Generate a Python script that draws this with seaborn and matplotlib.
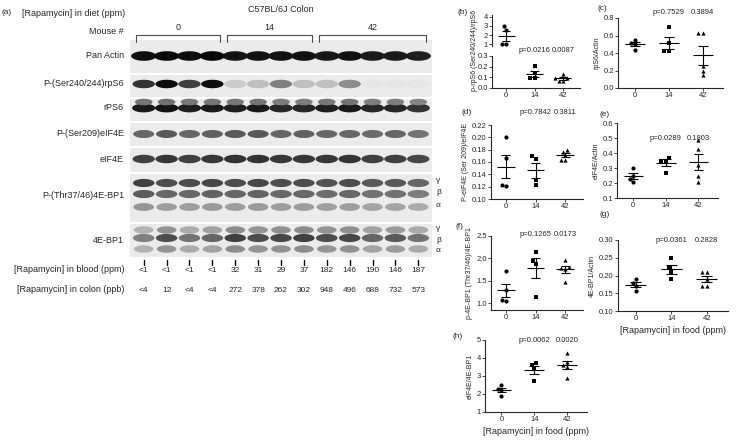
import numpy as np
import pandas as pd
import matplotlib
matplotlib.use("Agg")
import matplotlib.pyplot as plt
from matplotlib.patches import Rectangle
from matplotlib.path import Path
from matplotlib.transforms import blended_transform_factory
import seaborn as sns

sns.set_style("ticks")
plt.rcParams["font.family"] = "Liberation Sans"

# ---- blot data (relative band intensity, 13 lanes) ----
dose_groups = ["0", "14", "42"]
lanes_per_group = [4, 4, 5]
blood = ["<1", "<1", "<1", "<1", "32", "31", "29", "37", "182", "146", "190", "146", "187"]
colon = ["<4", "12", "<4", "<4", "272", "378", "262", "302", "948", "496", "688", "732", "573"]
pan_actin = [0.95, 0.97, 0.95, 0.97, 0.93, 0.93, 0.93, 0.93, 0.9, 0.93, 0.9, 0.9, 0.88]
p_rps6 = [0.8, 0.95, 0.75, 0.95, 0.2, 0.25, 0.5, 0.25, 0.25, 0.45, 0.1, 0.1, 0.1]
rps6 = [0.9, 0.92, 0.88, 0.9, 0.88, 0.9, 0.85, 0.85, 0.88, 0.9, 0.85, 0.85, 0.8]
p_eif4e = [0.6, 0.65, 0.6, 0.62, 0.65, 0.65, 0.6, 0.62, 0.6, 0.6, 0.58, 0.6, 0.55]
eif4e = [0.75, 0.78, 0.75, 0.78, 0.8, 0.8, 0.78, 0.78, 0.78, 0.8, 0.75, 0.75, 0.72]
p_4ebp1 = [0.75, 0.7, 0.7, 0.72, 0.7, 0.72, 0.7, 0.7, 0.68, 0.7, 0.65, 0.65, 0.6]
ebp1 = [0.5, 0.7, 0.55, 0.6, 0.75, 0.7, 0.72, 0.75, 0.7, 0.72, 0.6, 0.65, 0.55]

# ---- quantification data ----
b_vals = {"0": [3.0, 2.6, 1.0, 1.0], "14": [0.21, 0.14, 0.09, 0.09], "42": [0.13, 0.09, 0.07, 0.07, 0.09]}
c_vals = {"0": [0.55, 0.50, 0.52, 0.43], "14": [0.70, 0.52, 0.42, 0.42], "42": [0.63, 0.63, 0.25, 0.20, 0.15]}
d_vals = {"0": [0.20, 0.166, 0.121, 0.123], "14": [0.165, 0.169, 0.13, 0.122], "42": [0.177, 0.18, 0.171, 0.163, 0.164]}
e_vals = {"0": [0.30, 0.25, 0.21, 0.23], "14": [0.37, 0.35, 0.35, 0.27], "42": [0.49, 0.43, 0.32, 0.25, 0.21]}
f_vals = {"0": [1.72, 1.3, 1.05, 1.07], "14": [2.15, 1.95, 1.88, 1.14], "42": [1.97, 1.80, 1.78, 1.76, 1.47]}
g_vals = {"0": [0.19, 0.18, 0.17, 0.155], "14": [0.25, 0.22, 0.21, 0.19], "42": [0.21, 0.21, 0.19, 0.17, 0.17]}
h_vals = {"0": [2.5, 2.3, 2.2, 1.9], "14": [3.7, 3.6, 3.4, 2.7], "42": [4.3, 3.8, 3.6, 3.5, 2.9]}
markers = {"0": "o", "14": "s", "42": "^"}

W, H = 738, 441
fig = plt.figure(figsize=(W / 100, H / 100), dpi=100)


def fx(px):
    return px / W


def fy(py):
    return 1 - py / H


# ---- panel (a) ----
ax = fig.add_axes([fx(130), fy(300), fx(302), 290 / H])
ax.set_xlim(-0.6, 12.6)
ax.set_ylim(300, 10)
ax.axis("off")
t = np.linspace(0, 2 * np.pi, 40)
band = Path(np.c_[np.cos(t), 0.38 * np.sin(t)])
lanes = np.arange(len(blood))


def blot_row(y0, y1, rows):
    ax.add_patch(Rectangle((-0.6, y0), 13.2, y1 - y0, color="#ebebeb", lw=0))
    for yc, vals, sz in rows:
        ax.scatter(lanes, [yc] * len(lanes), marker=band, s=sz, lw=0,
                   c=[str(1 - v) for v in vals])


blot_row(40, 73, [(56, pan_actin, 330)])
blot_row(75, 97, [(84, p_rps6, 260)])
blot_row(99, 121, [(108, rps6, 280), (102, [v * 0.6 for v in rps6], 160)])
blot_row(123, 146, [(134, p_eif4e, 230)])
blot_row(148, 172, [(159, eif4e, 260)])
blot_row(174, 222, [(183, p_4ebp1, 240), (194, [v * 0.85 for v in p_4ebp1], 240),
                    (207, [v * 0.55 for v in p_4ebp1], 220)])
blot_row(224, 257, [(230, [v * 0.6 for v in ebp1], 200), (238, ebp1, 240),
                    (249, [v * 0.6 for v in ebp1], 200)])

start = -0.5
for g, n in zip(dose_groups, lanes_per_group):
    a, b = start + 0.15, start + n - 0.15
    ax.plot([a, a, b, b], [42, 35, 35, 42], color="0.3", lw=0.8)
    ax.text((a + b) / 2, 28, g, ha="center", va="center", fontsize=6.5)
    start += n
for i in lanes:
    ax.plot([i, i], [260, 265], color="k", lw=1)
    ax.text(i, 271, blood[i], ha="center", va="center", fontsize=6)
    ax.text(i, 290, colon[i], ha="center", va="center", fontsize=6)
ax.text(6, 9, "C57BL/6J Colon", ha="center", va="center", fontsize=6.5)

fig.text(fx(2), fy(12), "(a)", fontsize=6, va="center")
fig.text(fx(22), fy(13), "[Rapamycin] in diet (ppm)", fontsize=6.5, va="center")
left_labels = [("Mouse #", 32), ("Pan Actin", 56), ("P-(Ser240/244)rpS6", 84), ("rPS6", 108),
               ("P-(Ser209)eIF4E", 134), ("eIF4E", 159), ("P-(Thr37/46)4E-BP1", 195),
               ("4E-BP1", 240), ("[Rapamycin] in blood (ppm)", 270), ("[Rapamycin] in colon (ppb)", 290)]
for txt, y in left_labels:
    fig.text(fx(124), fy(y), txt, ha="right", va="center", fontsize=6.5)
for x0, ys in [(fx(436), [180, 193, 206]), (fx(436), [229, 240, 250])]:
    for s, y in zip(["γ", "β", "α"], ys):
        fig.text(x0, fy(y), s, fontsize=6, va="center")


def dotplot(axp, vals, ylabel=None):
    df = pd.DataFrame([(g, v) for g in dose_groups for v in vals[g]], columns=["dose", "v"])
    for g in dose_groups:
        sub = df[df.dose == g]
        sns.swarmplot(data=sub, x="dose", y="v", order=dose_groups, marker=markers[g],
                      color="k", size=3, ax=axp, warn_thresh=1)
    for i, g in enumerate(dose_groups):
        v = np.array(vals[g])
        m, se = v.mean(), v.std(ddof=1) / np.sqrt(len(v))
        axp.hlines(m, i - 0.3, i + 0.3, color="k", lw=0.8)
        axp.hlines([m - se, m + se], i - 0.15, i + 0.15, color="k", lw=0.8)
        axp.vlines(i, m - se, m + se, color="k", lw=0.8)
    axp.set_xlabel("")
    axp.set_ylabel(ylabel or "", fontsize=5, labelpad=2)
    axp.tick_params(labelsize=5.5, length=2, width=0.6, pad=1)
    for s in axp.spines.values():
        s.set_linewidth(0.8)
    sns.despine(ax=axp)
    axp.set_xlim(-0.5, 2.6)


def box(x0, y0, x1, y1):
    return fig.add_axes([fx(x0), fy(y1), fx(x1 - x0), (y1 - y0) / H])


def pvals(axp, p1, p2, ypx):
    tr = blended_transform_factory(axp.transData, fig.transFigure)
    axp.text(1, fy(ypx), "p=" + p1, ha="center", va="center", fontsize=5.5, transform=tr)
    axp.text(2, fy(ypx), p2, ha="center", va="center", fontsize=5.5, transform=tr)


# (b) broken axis
bt = box(492, 15, 580, 46)
dotplot(bt, b_vals)
bt.set_ylim(0.8, 4.2)
bt.set_yticks([1, 2, 3, 4])
bt.set_xticks([])
bt.spines["bottom"].set_visible(False)
bb = box(492, 56, 580, 88)
dotplot(bb, b_vals)
bb.set_ylim(0, 0.3)
bb.set_yticks([0.0, 0.1, 0.2, 0.3])
pvals(bb, "0.0216", "0.0087", 51)
fig.text(fx(474), fy(50), "p-rpS6 (Ser240/244)/rpS6", rotation=90, fontsize=5, ha="center", va="center")
fig.text(fx(457), fy(13), "(b)", fontsize=6, va="center")

ac = box(618, 18, 723, 88)
dotplot(ac, c_vals, "rpS6/Actin")
ac.set_ylim(0, 0.8)
ac.set_yticks([0, 0.2, 0.4, 0.6, 0.8])
pvals(ac, "0.7529", "0.3894", 12)
fig.text(fx(597), fy(8), "(c)", fontsize=6, va="center")

ad = box(491, 125, 583, 199)
dotplot(ad, d_vals, "P-eIF4E (Ser 209)/eIF4E")
ad.set_ylim(0.10, 0.22)
ad.set_yticks(np.arange(0.10, 0.221, 0.02))
pvals(ad, "0.7842", "0.3811", 113)
fig.text(fx(462), fy(113), "(d)", fontsize=6, va="center")

ae = box(617, 123, 718, 198)
dotplot(ae, e_vals, "eIF4E/Actin")
ae.set_ylim(0.1, 0.6)
ae.set_yticks([0.1, 0.2, 0.3, 0.4, 0.5, 0.6])
pvals(ae, "0.0289", "0.1803", 138)
fig.text(fx(600), fy(115), "(e)", fontsize=6, va="center")

af = box(491, 236, 583, 310)
dotplot(af, f_vals, "p-4E-BP1 (Thr37/46)/4E-BP1")
af.set_ylim(0.85, 2.5)
af.set_yticks([1.0, 1.5, 2.0, 2.5])
pvals(af, "0.1265", "0.0173", 235)
fig.text(fx(455), fy(227), "(f)", fontsize=6, va="center")

ag = box(618, 240, 728, 311)
dotplot(ag, g_vals, "4E-BP1/Actin")
ag.set_ylim(0.10, 0.30)
ag.set_yticks([0.10, 0.15, 0.20, 0.25, 0.30])
pvals(ag, "0.0361", "0.2828", 240)
ag.set_xlabel("[Rapamycin] in food (ppm)", fontsize=6.5, labelpad=3)
fig.text(fx(600), fy(214), "(g)", fontsize=6, va="center")

ah = box(485, 340, 587, 412)
dotplot(ah, h_vals, "eIF4E/4E-BP1")
ah.set_ylim(1, 5)
ah.set_yticks([1, 2, 3, 4, 5])
pvals(ah, "0.0062", "0.0020", 341)
ah.set_xlabel("[Rapamycin] in food (ppm)", fontsize=6.5, labelpad=3)
fig.text(fx(453), fy(337), "(h)", fontsize=6, va="center")

fig.savefig("out.png", dpi=100)
